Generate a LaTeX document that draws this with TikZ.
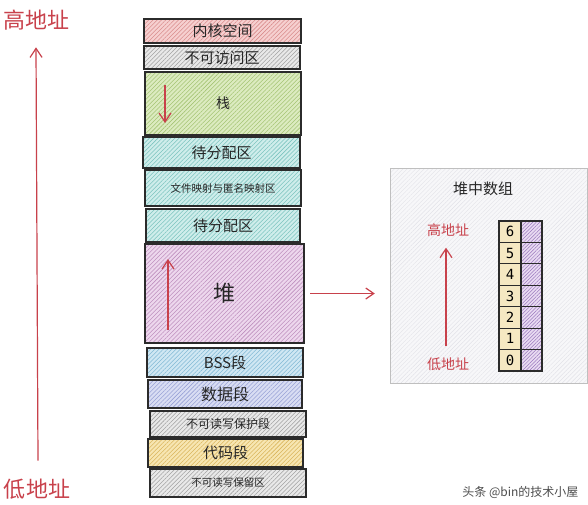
\documentclass[tikz,border=0pt]{standalone}
\usepackage{fontspec}
\setmainfont{Noto Sans CJK SC}
\newfontfamily\monof{DejaVu Sans Mono}
\usetikzlibrary{patterns.meta,arrows.meta}
\definecolor{addrred}{RGB}{200,65,75}
\definecolor{edge}{HTML}{2B2B2B}
\definecolor{kerF}{HTML}{F6D0D0}\definecolor{kerH}{HTML}{D98C8C}
\definecolor{gryF}{HTML}{E9E9E9}\definecolor{gryH}{HTML}{A2A2A2}
\definecolor{stkF}{HTML}{DCEBC0}\definecolor{stkH}{HTML}{A5C474}
\definecolor{cyaF}{HTML}{CFEDEB}\definecolor{cyaH}{HTML}{7CC4BF}
\definecolor{hepF}{HTML}{EDD7ED}\definecolor{hepH}{HTML}{BE90BE}
\definecolor{bssF}{HTML}{D0E7F3}\definecolor{bssH}{HTML}{82B9D5}
\definecolor{datF}{HTML}{D9DDF3}\definecolor{datH}{HTML}{98A1D6}
\definecolor{codF}{HTML}{F7E6B2}\definecolor{codH}{HTML}{D9B55C}
\definecolor{arrY}{HTML}{F5E8C2}
\definecolor{arrF}{HTML}{E9DBF2}\definecolor{arrH}{HTML}{9A78BE}
\definecolor{panF}{HTML}{F7F7F9}\definecolor{panH}{HTML}{E2E2E8}
\tikzset{
  seg/.style n args={2}{draw=edge, line width=1.4pt, inner sep=0pt, outer sep=0pt,
    preaction={fill=#1}, pattern={Lines[angle=45,distance=3pt,line width=0.55pt]},
    pattern color=#2, text=black!85, align=center},
  addr/.style={text=addrred, inner sep=2pt},
  addrarrow/.style={draw=addrred, line width=1.2pt, -{Straight Barb[length=9pt,width=12pt,line width=1.2pt]}},
  cellL/.style={draw=edge, line width=1.1pt, fill=arrY, minimum width=22pt, minimum height=21.43pt, inner sep=0pt, font=\monof\fontsize{14}{14}\selectfont},
  cellR/.style={draw=edge, line width=1.1pt, preaction={fill=arrF}, pattern={Lines[angle=45,distance=2.5pt,line width=0.5pt]}, pattern color=arrH, minimum width=21pt, minimum height=21.43pt, inner sep=0pt}
}
\newcommand{\fs}[1]{\fontsize{#1}{#1}\selectfont}
\begin{document}
\begin{tikzpicture}[x=1pt,y=-1pt]
\useasboundingbox (0,0) rectangle (588,504);
% memory segments
\node[seg={kerF}{kerH}, minimum width=157pt, minimum height=24pt, font=\fs{15}] (kernel) at (222.5,31) {内核空间};
\node[seg={gryF}{gryH}, minimum width=156pt, minimum height=23pt, font=\fs{15}] (inacc) at (222,57.5) {不可访问区};
\node[seg={stkF}{stkH}, minimum width=156pt, minimum height=63pt, font=\fs{14}] (stack) at (223,103.5) {栈};
\node[seg={cyaF}{cyaH}, minimum width=157pt, minimum height=31pt, font=\fs{15}] (free1) at (221.5,152.5) {待分配区};
\node[seg={cyaF}{cyaH}, minimum width=156pt, minimum height=36pt, font=\fs{10.5}] (mmap) at (223,188) {文件映射与匿名映射区};
\node[seg={cyaF}{cyaH}, minimum width=154pt, minimum height=33pt, font=\fs{15}] (free2) at (223,225.5) {待分配区};
\node[seg={hepF}{hepH}, minimum width=159pt, minimum height=99pt, font=\fs{22}] (heap) at (224.5,293.5) {堆};
\node[seg={bssF}{bssH}, minimum width=156pt, minimum height=29pt, font=\fs{15}] (bss) at (225,362.5) {BSS段};
\node[seg={datF}{datH}, minimum width=154pt, minimum height=28pt, font=\fs{16}] (data) at (225,394) {数据段};
\node[seg={gryF}{gryH}, minimum width=156pt, minimum height=26pt, font=\fs{12}] (prot) at (228,424) {不可读写保护段};
\node[seg={codF}{codH}, minimum width=155pt, minimum height=28pt, font=\fs{15}] (code) at (225.5,453) {代码段};
\node[seg={gryF}{gryH}, minimum width=156pt, minimum height=28pt, font=\fs{10.5}] (resv) at (228,483) {不可读写保留区};
% stack and heap growth arrows
\coordinate (stkA) at ([shift={(20,13)}]stack.north west);
\coordinate (stkB) at ([shift={(20,-12)}]stack.south west);
\draw[addrarrow] (stkA) -- (stkB);
\coordinate (hepA) at ([shift={(23,-13)}]heap.south west);
\coordinate (hepB) at ([shift={(23,15)}]heap.north west);
\draw[addrarrow] (hepA) -- (hepB);
% left address axis
\node[addr, font=\fs{22}] (high) at (36,20) {高地址};
\node[addr, font=\fs{22}] (low) at (37,489) {低地址};
\draw[addrarrow] ([xshift=1pt,yshift=16pt]low.north) -- ([yshift=-15pt]high.south);
% right panel
\node[draw=black!25, line width=1pt, preaction={fill=panF}, pattern={Lines[angle=45,distance=3pt,line width=0.4pt]}, pattern color=panH, minimum width=197pt, minimum height=215pt, inner sep=0pt] (panel) at (488.5,275.5) {};
\node[font=\fs{15}, text=black!85] (ptitle) at (483,189) {堆中数组};
\node[addr, font=\fs{14}] (phigh) at (448,230) {高地址};
\node[addr, font=\fs{14}] (plow) at (448,364) {低地址};
\draw[addrarrow] ([xshift=-2pt,yshift=9pt]plow.north) -- ([xshift=-2pt,yshift=-9pt]phigh.south);
\foreach \i in {0,...,6} {
  \pgfmathsetmacro{\cy}{221+21.43*(\i+0.5)}
  \pgfmathtruncatemacro{\d}{6-\i}
  \node[cellL] (L\d) at (510,\cy) {\d};
  \node[cellR] (R\d) at (531.5,\cy) {};
}
% heap to panel connector
\draw[draw=addrred, line width=1.2pt, -{Straight Barb[length=8pt,width=11pt,line width=1.2pt]}, shorten <=6pt, shorten >=15pt] (heap.east) -- (heap.east -| panel.west);
% watermark
\node[text=black!70, font=\fs{12}, anchor=east] (wm) at (582,492) {头条 @bin的技术小屋};
\end{tikzpicture}
\end{document}
